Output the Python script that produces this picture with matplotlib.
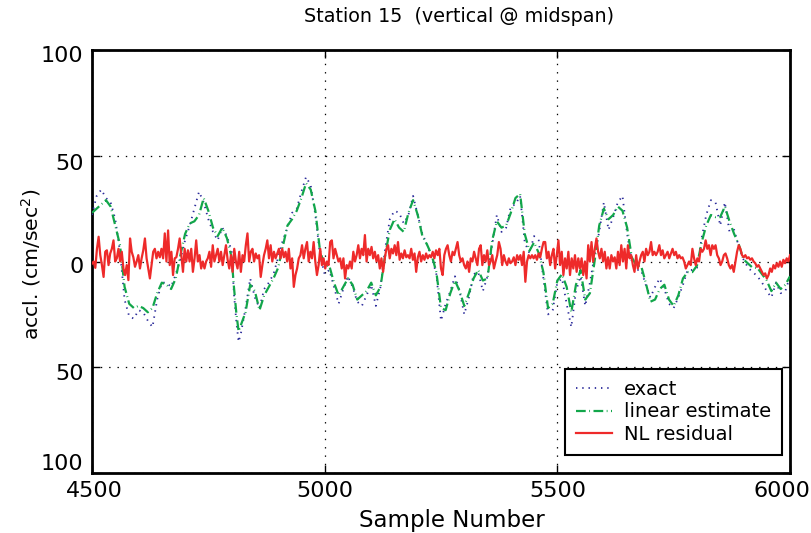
import numpy as np
import matplotlib
matplotlib.use("Agg")
import matplotlib.pyplot as plt
import matplotlib.transforms as mtransforms

plt.rcParams['font.family'] = ['DejaVu Sans']
plt.rcParams['lines.scale_dashes'] = False
plt.rcParams['mathtext.fontset'] = 'dejavusans'

# ---------------- data ----------------
slow_samples = [4500, 4510, 4520, 4530, 4540, 4550, 4560, 4570, 4580, 4590,
                4600, 4610, 4620, 4630, 4640, 4650, 4660, 4670, 4680, 4690,
                4700, 4710, 4720, 4730, 4740, 4750, 4760, 4770, 4780, 4790,
                4800, 4805, 4810, 4815, 4820, 4830, 4840, 4850, 4860, 4870,
                4880, 4890, 4900, 4910, 4920, 4930, 4940, 4950, 4960, 4970,
                4980, 4990, 5000, 5010, 5020, 5030, 5040, 5050, 5060, 5070,
                5080, 5090, 5100, 5110, 5120, 5130, 5140, 5150, 5160, 5170,
                5180, 5190, 5200, 5210, 5220, 5230, 5240, 5250, 5260, 5270,
                5280, 5290, 5300, 5310, 5320, 5330, 5340, 5350, 5360, 5370,
                5380, 5390, 5400, 5410, 5420, 5430, 5440, 5450, 5460, 5470,
                5480, 5490, 5500, 5510, 5520, 5530, 5540, 5550, 5560, 5570,
                5580, 5590, 5600, 5610, 5620, 5630, 5640, 5650, 5660, 5670,
                5680, 5690, 5700, 5710, 5720, 5730, 5740, 5750, 5760, 5770,
                5780, 5790, 5800, 5810, 5820, 5830, 5840, 5850, 5860, 5870,
                5880, 5890, 5900, 5910, 5920, 5930, 5940, 5950, 5960, 5970,
                5980, 5990, 6000]

exact = [22, 31, 34, 30, 28, 20, 5, -18, -26, -27,
         -23, -24, -28, -31, -18, -10, -10, -12, -6, 1,
         10, 17, 25, 33, 28, 20, 14, 10, 16, 12,
         5, -15, -28, -38, -34, -22, -8, -17, -22, -13,
         -10, -6, 2, 10, 16, 23, 25, 33, 40, 36,
         22, 3, -6, -4, -12, -20, -13, -7, -12, -19,
         -21, -16, -11, -21, -12, 6, 20, 24, 23, 18,
         22, 31, 22, 13, 8, 2, -6, -28, -20, -14,
         -7, -14, -25, -17, -6, -5, -14, -7, 8, 22,
         14, 16, 26, 27, 31, 9, 4, 12, 10, -8,
         -25, -23, -10, -8, -20, -31, -14, -7, -21, -10,
         3, 14, 28, 15, 21, 28, 31, 13, 0, -4,
         -4, -11, -17, -12, -8, -13, -20, -22, -17, -11,
         -4, -4, -3, 11, 22, 29, 28, 17, 28, 14,
         15, 7, 1, -3, -5, -7, -10, -14, -17, -10,
         -15, -14, -7]

linear = [23, 25, 27, 29, 26, 17, 8, -12, -20, -22,
          -21, -22, -24, -22, -15, -10, -11, -13, -8, 3,
          13, 18, 19, 22, 30, 24, 16, 12, 16, 11,
          2, -12, -24, -33, -30, -24, -11, -14, -23, -16,
          -12, -8, -3, 7, 17, 20, 24, 30, 37, 34,
          24, 5, -2, -2, -10, -16, -12, -8, -11, -18,
          -16, -14, -10, -16, -12, 3, 15, 20, 16, 14,
          23, 29, 22, 12, 8, 3, -5, -22, -23, -15,
          -9, -14, -21, -15, -8, -4, -9, -8, 10, 19,
          16, 17, 23, 30, 32, 13, 5, 9, 4, -5,
          -22, -20, -9, -6, -12, -24, -11, -4, -18, -15,
          0, 17, 25, 20, 22, 26, 24, 16, 2, -2,
          -2, -10, -19, -18, -13, -11, -18, -21, -16, -8,
          -5, -5, -2, 9, 17, 22, 21, 21, 26, 19,
          13, 8, 1, -1, -3, -3, -6, -9, -14, -10,
          -13, -11, -7]

nl_residual = [
    -1, 0, -3, 6, 11.7, 3, -1.7, -7.3, 4.6, 5.3, -1.7, 3.8, 6, 10, 0, 1.5,
    6, 0, 4.6, -3.3, -6.4, -1.7, -8.8, 10.9, 4.6, 2, -2.5, 0, 3, -3.3, 1.5,
    5.3, 10.9, 1.5, -3.3, -8, -1.7, 4.6, 6, 1.5, 4.6, 2, 6, 1.5, 13.3, 0,
    14.7, -1.7, 4.6, -6.4, 1.5, 2, 6, 10.9, 3, -4.9, 6, 0, 5.3, 0, 6, -4.9,
    1.5, 10, 0, 3, -3.3, 0, -3.3, 0,
    1.5, 4.6, -2.5, 7.7, 0, 3, 6, 0, 4.6, -1.7, 3, 7.7, 0.8, -3.3, 3, -4.9,
    6, 0, -3.3, 4.6, -4.9, 3, 0, 7.7, 13.3, 0, 4.6, 6, 0, 3.8, 1.5, 3, -7.3,
    -1.7, 3, 6, 10, 1.5, 7.7, 0, 4.6, 1.5, 3.8, 6, 1.5, 6, 2, 4.6, 0, 6,
    -3.3, 1.5, -12, -6.4, -3.3, 1.5, 3, 7.7, 1.5, 6, 9.2, 0, 4.6, 1.5, 9.2,
    0, -6.4, -1.7,
    6, -1.7, 1.5, -3.3, 0, -1.7, 9.2, 10, 1.5, 6, 3, 0, 1.5, -3.3, 1.5, -8,
    -1.7, -3.3, 0, -3.3, 4.6, 0, 3, 7.7, 1.5, 6, 3, 12.5, 0, 6, 3, 6.9, 1.5,
    4.6, 0, 3, -3.3, 1.5, -4.9, 1.5, 6, 7.7, 1.5, 6, 3.8, 7.7, 3, 9.2, 0.8,
    3.8, 1.5, 5.3, 2, 3, 1.5, 6, 0.8, 3.8, -4.9, 2, 4.6, 0, 3, 0.8, 3.8, 1.5,
    3, 2,
    4.6, 1.5, 5.3, 3, 6, -3.3, -6.4, 3, 6, 7.7, 3, 0, 4.6, 3, 6, 9.2, 3, 0,
    1.5, -1.7, -3.3, 0, -4.9, 1.5, 0, 4.6, 1.5, -1.7, 6, 7.7, -1.7, 3, 0, 5.3,
    -1.7, 0, 3, -3.3, 0, 3, 9.2, 6, -1.7, 3, 0, -1.7, 1.5, -0.8, 0, 2, -1.7,
    3, 0.8, 3, -1.7, 4.6, -9.6, 0, 3, 1.5, 3, 1.5, 3, 0.8, 3.8, 2, 6, 9.2,
    9.2, 1.5, 4.6, -1.7, 3, 6, -3.3, 3, 10, -1.7, 4.6, -6.4, 1.5, -3.3, 4.6,
    -6.4, 1.5, -3.3, 3, -4.9, 1.5, -3.3, 1.5, -6.4, 0, -8, 7.7, 0, 9.2, 0, 6,
    10.9, 4.6, 1.5, 6, 0, 4.6, -3.3, 2, -3.3, 3, 0, 2, -3.3, 4.6, -1.7, 7.7,
    0, 6, -3.3, 7.7, 1.5, 3, -1.7, -4.9, 3, -3.3, 0, 3, 4.6, 0, 6, 3, 4.6,
    9.2, 3, 4.6, 3,
    4.6, 7.7, 3, 5.3, 1.5, 3, 4.6, 1.5, 3.8, 6, 3, 4.6, 1.5, 3, 1.5, 2, 0,
    -3.3, -1.7, 0, -1.7, 6, 1.5, -1.7, 1.5, 0, 6, 4.6, 6, 10, 6, 7.7, 3, 7.7,
    6, 7.7, 3, 1.5, -1.7, 0, 3, 3.8, 1.5, -1.7, -3.3, -1.7, -4.9, 0, 4.6, 7.7,
    6, 3, 2, 3, 1.5, 2, 0.8, 1.5, 0, -0.8, -2.5, -1.7, -3.3, -4.9, -6.4, -5.6,
    -8, -6.4, -3.3, -4.9, -1.7, -3.3, -0.8, -2.5, 0, -2.5, 0.8, -0.8, 1.5, 0,
    3]

x_ticks = [4500, 5000, 5500, 6000]
y_ticks = [-100, -50, 0, 50, 100]
y_tick_labels = ["100", "50", "0", "50", "100"]

# ---------------- figure ----------------
fig = plt.figure(figsize=(8.11, 5.33), dpi=100)
ax = fig.add_axes([92 / 811, 1 - 473 / 533, (790 - 92) / 811, (473 - 50) / 533])

red_x = np.linspace(4500, 6000, len(nl_residual))

ax.plot(slow_samples, exact, color='#2b2b9a', lw=1.3,
        linestyle=(0, (1.0, 3.5)), label='exact', zorder=3)
ax.plot(slow_samples, linear, color='#12a64a', lw=1.6,
        dashes=(7, 2.5, 0.6, 2.5), label='linear estimate', zorder=4)
ax.plot(red_x, nl_residual, color='#ee2a2a', lw=1.6, label='NL residual',
        zorder=5)

ax.set_xlim(4500, 6000)
ax.set_ylim(-100, 100)
ax.set_xticks(x_ticks)
ax.set_yticks(y_ticks)
ax.set_yticklabels(y_tick_labels)
ax.tick_params(direction='in', length=6, width=1, labelsize=16,
               top=True, right=True)
ax.tick_params(axis='x', pad=6)
ax.tick_params(axis='y', pad=6)
ax.grid(True, color='black', linestyle=(0, (1, 5)), linewidth=0.9)

for sp in ax.spines.values():
    sp.set_linewidth(2)


def shift(txt, dx_px, dy_px):
    off = mtransforms.ScaledTranslation(dx_px / fig.dpi, -dy_px / fig.dpi,
                                        fig.dpi_scale_trans)
    txt.set_transform(txt.get_transform() + off)


# MATLAB-like pulled-in end labels
xt = ax.xaxis.get_major_ticks()
shift(xt[0].label1, 2, 0)
shift(xt[-1].label1, -8.5, 0)
yt = ax.yaxis.get_major_ticks()
for tk, dy in zip(yt, [-11.5, 4.5, 3, 6, 3.5]):
    shift(tk.label1, 0, dy)

ax.set_title('Station 15  (vertical @ midspan)', fontsize=13.8, pad=20,
             x=0.526)
ax.set_xlabel('Sample Number', fontsize=16.5)
ax.xaxis.set_label_coords(0.516, -0.084)
ax.set_ylabel('accl. (cm/sec$^2$)', fontsize=14.7)
ax.yaxis.set_label_coords(-0.070, 0.494)

leg = ax.legend(loc='lower right', fontsize=14, frameon=True, fancybox=False,
                edgecolor='black', handlelength=1.9, borderpad=0.55,
                labelspacing=0.2, handletextpad=0.6, borderaxespad=0,
                bbox_to_anchor=(0.9885, 0.0426))
leg.get_frame().set_linewidth(1.5)
leg.get_frame().set_alpha(1)

fig.savefig('out.png', dpi=100)
